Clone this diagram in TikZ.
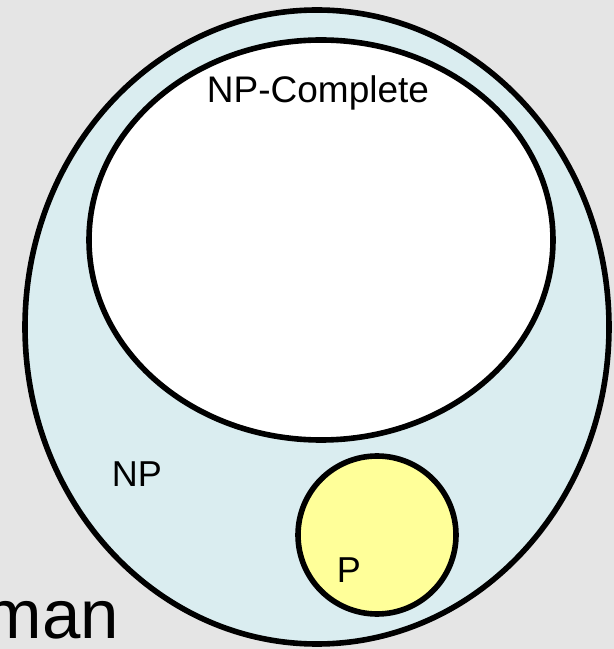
\documentclass[tikz,border=0pt]{standalone}
\usepackage{fontspec}
\setmainfont{Liberation Sans}
\usepackage{tikz}
\usetikzlibrary{shapes.geometric,positioning}
\definecolor{bggray}{RGB}{229,229,229}
\definecolor{npblue}{RGB}{218,237,240}
\definecolor{pyellow}{RGB}{255,255,153}

\begin{document}
\begin{tikzpicture}[x=1pt,y=1pt,line width=5.6pt,
	region/.style={ellipse,draw=black,inner sep=0pt},
	lbl/.style={inner sep=0pt,font=\fontsize{36}{40}\selectfont}]
	\useasboundingbox (0,0) rectangle (614,649);
	\fill[bggray] (0,0) rectangle (614,649);
	\node[region,fill=npblue,minimum width=584,minimum height=634] (np) at (317,322) {};
	\node[region,fill=white,minimum width=464,minimum height=400] (npc) at (321,409) {};
	\node[circle,draw=black,inner sep=0pt,fill=pyellow,minimum size=158] (p) at (377,114) {};
	\node[lbl,anchor=base,font=\fontsize{37}{40}\selectfont] (npc_lbl) at (318,546) {NP-Complete};
	\node[lbl,anchor=base west] (np_lbl) at (109,162.3) {NP};
	\node[lbl,anchor=base west] (p_lbl) at (334,66.7) {P};
	\node[lbl,anchor=base east,font=\fontsize{69}{72}\selectfont] (man) at (122,10) {man};
\end{tikzpicture}
\end{document}
